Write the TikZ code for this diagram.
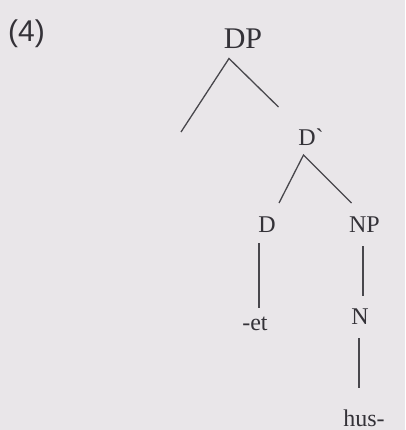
\documentclass[tikz,border=0pt]{standalone}
\usepackage{fontspec}
\setmainfont{Liberation Serif}
\newfontfamily\exfont{Liberation Sans}
\usepackage{xcolor}
\usetikzlibrary{calc,positioning}
\definecolor{paper}{RGB}{233,230,233}
\definecolor{inkgray}{RGB}{52,50,56}
\tikzset{
  branch/.style={draw=inkgray!90, line width=1.3pt},
  label/.style={anchor=base, inner sep=0pt, text=inkgray, font=\fontsize{24}{24}\selectfont}
}

\begin{document}
\begin{tikzpicture}[x=1pt, y=-1pt]
  \fill[paper] (0,0) rectangle (405,430);
  \node[label, anchor=base west, font=\exfont\fontsize{30}{30}\selectfont] (ex) at (8,42) {(4)};
  \node[label, font=\fontsize{30}{30}\selectfont] (DP) at (243,48.5) {DP};
  \node[label] (Dbar) at (311,146) {D\textasciigrave};
  \node[label] (D) at (267,232) {D};
  \node[label] (NP) at (364.5,232) {NP};
  \node[label] (et) at (255,330) {-et};
  \node[label] (N) at (360,324) {N};
  \node[label] (hus) at (364,426) {hus-};
  % branch ends
  \coordinate (DPtop) at (229,58.5);
  \coordinate (Spec) at (181,132);
  \coordinate (DPr) at (278.5,107);
  \coordinate (Dbartop) at (303.5,155);
  \coordinate (Dl) at (279,203);
  \coordinate (Dr) at (351.5,203);
  \coordinate (Dtop) at (259,243);
  \coordinate (Dbot) at (259,308);
  \coordinate (NPtop) at (363,246);
  \coordinate (NPbot) at (363,296);
  \coordinate (Ntop) at (359,338);
  \coordinate (Nbot) at (359,388);
  \draw[branch] (Spec) -- (DPtop) -- (DPr);
  \draw[branch] (Dl) -- (Dbartop) -- (Dr);
  \draw[branch] (Dtop) -- (Dbot);
  \draw[branch] (NPtop) -- (NPbot);
  \draw[branch] (Ntop) -- (Nbot);
\end{tikzpicture}
\end{document}
